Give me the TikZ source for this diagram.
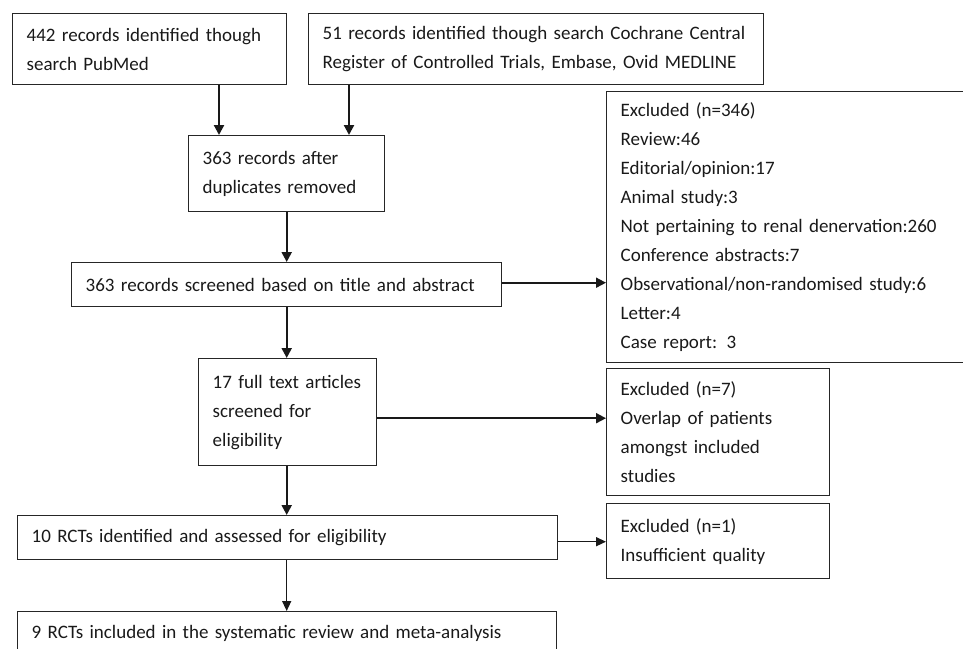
\documentclass[tikz,border=0pt]{standalone}
\usepackage{fontspec}
\setmainfont{Carlito}
\usepackage{tikz}
\usetikzlibrary{arrows.meta,positioning}

\tikzset{
  box/.style={draw=black!85, line width=1.4pt, anchor=north west, align=left,
    inner xsep=14pt, inner ysep=0pt, text=black!90,
    font=\fontsize{19}{29}\selectfont},
  arr/.style={draw=black!90, line width=2.2pt, -{Triangle[length=10pt,width=10pt]}},
  thinarr/.style={draw=black!90, line width=1.4pt, -{Triangle[length=10pt,width=9pt]}}
}

\begin{document}
\begin{tikzpicture}[x=1pt,y=-1pt]

        \useasboundingbox (0,0) rectangle (963,648);

        \node[box, text width=246pt, minimum height=71pt] (pubmed) at (12,13)
            {442 records identified though\\search PubMed};
        \node[box, text width=427pt, minimum height=71pt] (cochrane) at (308,13)
            {51 records identified though search Cochrane Central\\Register of Controlled Trials, Embase, Ovid MEDLINE};
        \node[box, text width=168pt, minimum height=76pt] (dedup) at (188,135)
            {363 records after\\duplicates removed};
        \node[box, text width=402pt, minimum height=44pt] (screen) at (71,262)
            {363 records screened based on title and abstract};
        \node[box, text width=342pt, minimum height=271pt] (excla) at (606,91)
            {Excluded (n=346)\\Review:46\\Editorial/opinion:17\\Animal study:3\\Not pertaining to renal denervation:260\\Conference abstracts:7\\Observational/non-randomised study:6\\Letter:4\\Case report: 3};
        \node[box, text width=150pt, minimum height=107pt] (fulltext) at (198,358)
            {17 full text articles\\screened for\\eligibility};
        \node[box, text width=195pt, minimum height=127pt] (exclb) at (606,368)
            {Excluded (n=7)\\Overlap of patients\\amongst included\\studies};
        \node[box, text width=512pt, minimum height=44pt] (rcts) at (17,515)
            {10 RCTs identified and assessed for eligibility};
        \node[box, text width=195pt, minimum height=75pt] (exclc) at (606,503)
            {Excluded (n=1)\\Insufficient quality};
        \node[box, text width=511pt, minimum height=44pt] (included) at (17,611)
            {9 RCTs included in the systematic review and meta-analysis};

        \draw[arr] ([xshift=31pt]dedup.north west |- pubmed.south) -- ([xshift=31pt]dedup.north west);
        \draw[arr] ([xshift=161pt]dedup.north west |- cochrane.south) -- ([xshift=161pt]dedup.north west);
        \draw[arr] (dedup.south) -- (dedup.south |- screen.north);
        \draw[arr] (screen.south -| dedup.south) -- (dedup.south |- fulltext.north);
        \draw[arr] (fulltext.south -| dedup.south) -- (dedup.south |- rcts.north);
        \draw[thinarr] (rcts.south -| dedup.south) -- (dedup.south |- included.north);

        \draw[arr, line width=1.8pt] ([yshift=2pt]screen.east) -- ([yshift=2pt]screen.east -| excla.west);
        \draw[arr, line width=1.8pt] ([yshift=-6pt]fulltext.east) -- ([yshift=-6pt]fulltext.east -| exclb.west);
        \draw[thinarr] ([yshift=-4pt]rcts.east) -- ([yshift=-4pt]rcts.east -| exclc.west);

\end{tikzpicture}
\end{document}
